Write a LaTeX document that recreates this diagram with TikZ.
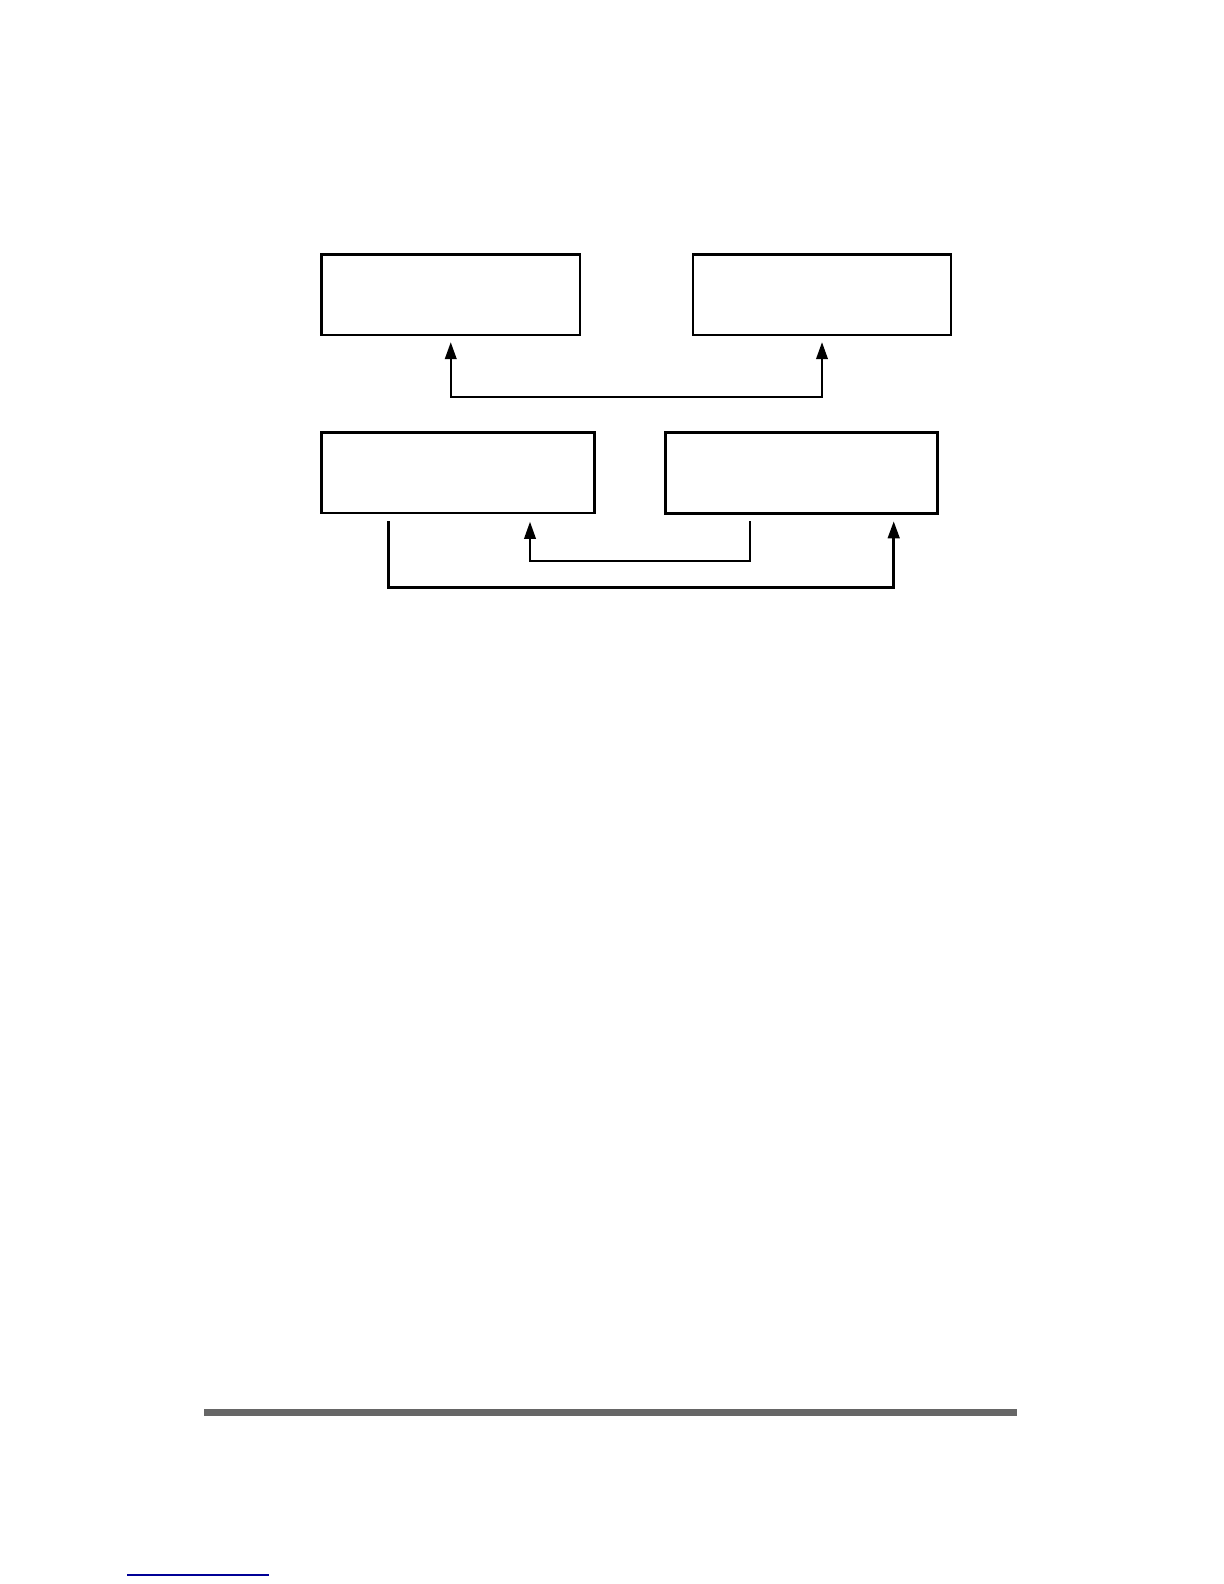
\documentclass[tikz,border=0pt]{standalone}
\usepackage{xcolor}
\usetikzlibrary{arrows.meta}

\definecolor{bargray}{HTML}{666666}
\definecolor{linkblue}{RGB}{0,0,150}

\tikzset{
  unitbox/.style = {draw = black, line width = 1.25pt, rectangle, inner sep = 0pt, outer sep = 0pt,
                    minimum height = 40.3pt},
  tip/.style = {arrows = {-Triangle[length = 8.5pt, width = 5.8pt]}},
  bothtips/.style = {arrows = {Triangle[length = 8.5pt, width = 5.8pt]-Triangle[length = 8.5pt, width = 5.8pt]}}
}

\begin{document}
\begin{tikzpicture}[x = 0.5pt, y = -0.5pt]
        \useasboundingbox (0,0) rectangle (1224,1584);
        % boxes
        \node[unitbox, minimum width = 129.25pt] (topleft) at (450.75,294.9) {};
        \node[unitbox, minimum width = 129pt] (topright) at (822,294.9) {};
        \node[unitbox, minimum width = 136.7pt] (botleft) at (458,472.9) {};
        \node[unitbox, minimum width = 136pt] (botright) at (801.3,473) {};
        % connectors
        \draw[black, line width = 1pt, bothtips] ([yshift = -3.5pt]topleft.south) -- ++(0,54.4) -| ([yshift = -3.5pt]topright.south);
        \draw[black, line width = 0.85pt, tip] ([xshift = -25.6pt, yshift = -4pt]botright.south) -- ++(0,40) -| ([xshift = 36pt, yshift = -4.3pt]botleft.south);
        \draw[black, line width = 1.3pt, tip] ([xshift = -34.75pt, yshift = -4pt]botleft.south) -- ++(0,66) -| ([xshift = 46.2pt, yshift = -4pt]botright.south);
        % page rule and link
        \fill[bargray] (204,1409) rectangle (1017,1416);
        \draw[linkblue, line width = 0.6pt] (127,1575) -- (269,1575);
    \end{tikzpicture}
\end{document}
